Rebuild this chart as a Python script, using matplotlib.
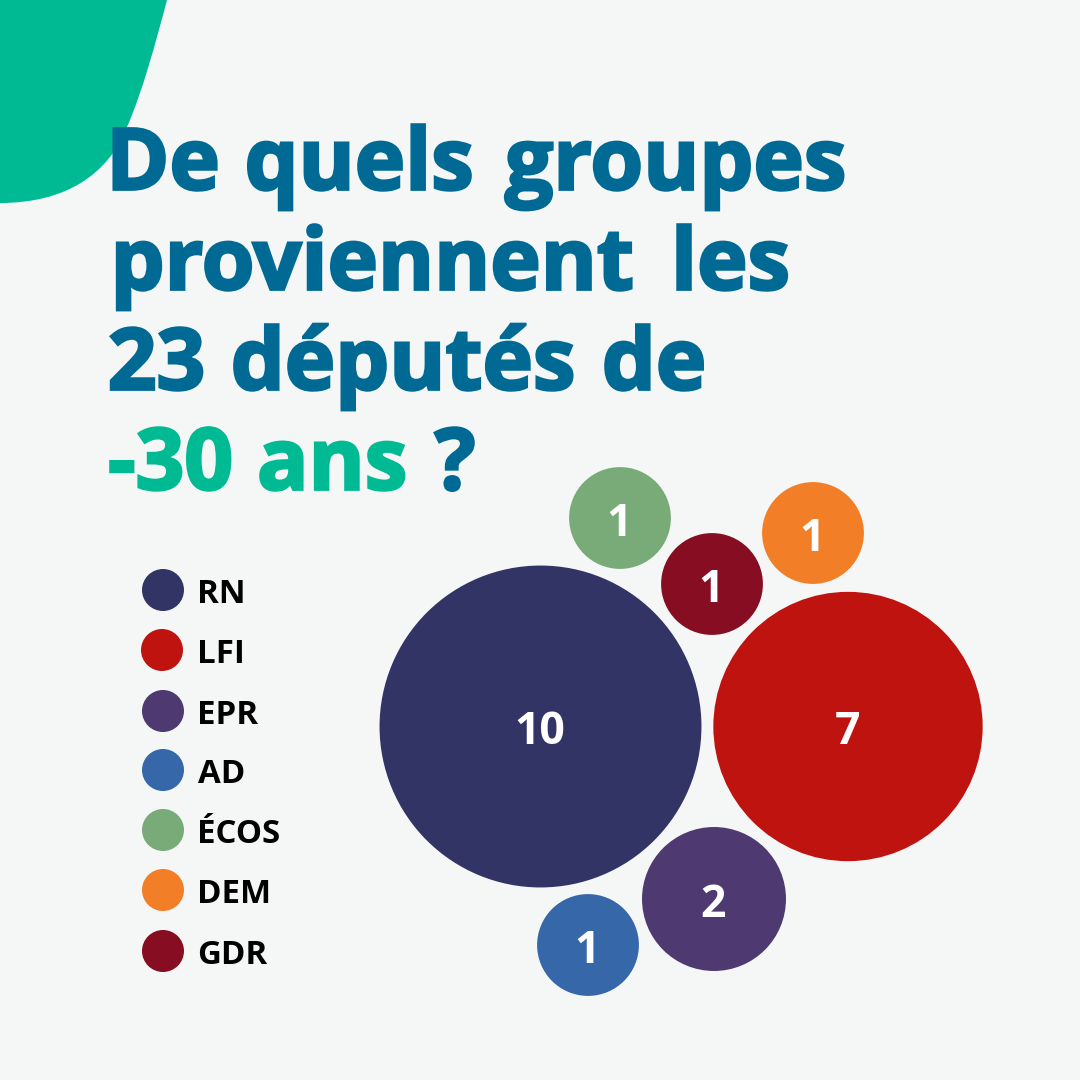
import numpy as np
import matplotlib
matplotlib.use('Agg')
import matplotlib.pyplot as plt
import matplotlib.patheffects as pe
from matplotlib.patches import Circle, PathPatch
from matplotlib.path import Path

groups = ['RN', 'LFI', 'EPR', 'AD', 'ÉCOS', 'DEM', 'GDR']
deputes = [10, 7, 2, 1, 1, 1, 1]
group_colors = ['#323466', '#BF1310', '#4E3A70', '#3567A9', '#79AB79', '#F27F27', '#860D22']
title_words = ['De', 'quels', 'groupes', 'proviennent', 'les', '23', 'députés', 'de', '-30', 'ans', '?']

# title layout: word centre x, baseline y, accent flag
word_x = [163, 359, 675.5, 372, 730.5, 156.5, 403, 654, 170.5, 332, 455]
word_y = [190, 190, 190, 290, 290, 390, 390, 390, 490, 490, 490]
word_green = [False] * 8 + [True, True, False]

# bubble layout, in pixels
centers_x = [540.5, 848, 714, 588, 620, 813, 712]
centers_y = [726.5, 726.5, 899, 945, 518, 533, 584]
legend_x = [163, 162, 163, 163, 163, 163, 163]
legend_y = [590, 650, 711, 770, 830, 890, 951]

BLUE = '#006A94'
GREEN = '#00BA94'
BG = '#F5F7F6'
BUBBLE_SCALE = 50.9  # px radius per sqrt(deputy)
TITLE_SIZE = 61.5

plt.rcParams['font.family'] = ['Open Sans', 'DejaVu Sans']

fig = plt.figure(figsize=(10.8, 10.8), dpi=100, facecolor=BG)
ax = fig.add_axes([0, 0, 1, 1])
ax.set_xlim(0, 1080)
ax.set_ylim(1080, 0)
ax.axis('off')

# corner shape
verts = [(0, 0), (167, 0),
         (155, 45), (143, 90), (127, 127),
         (108, 175), (65, 203), (0, 203),
         (0, 0)]
codes = [Path.MOVETO, Path.LINETO,
         Path.CURVE4, Path.CURVE4, Path.CURVE4,
         Path.CURVE4, Path.CURVE4, Path.CURVE4,
         Path.CLOSEPOLY]
ax.add_patch(PathPatch(Path(verts, codes), fc=GREEN, ec='none'))

# title, word by word since the heavier weight is not installed
for word, x, y, g in zip(title_words, word_x, word_y, word_green):
    col = GREEN if g else BLUE
    ax.text(x, y - 0.5, word, fontsize=TITLE_SIZE, fontweight='bold', color=col, va='baseline', ha='center',
            path_effects=[pe.withStroke(linewidth=2.0, foreground=col, joinstyle='miter')])

# bubbles
for x, y, v, c in zip(centers_x, centers_y, deputes, group_colors):
    ax.add_patch(Circle((x, y), BUBBLE_SCALE * np.sqrt(v), fc=c, ec='none'))
    ax.text(x - 0.5, y + 18, str(v), fontsize=32, fontweight='bold', color='white', ha='center', va='baseline')

# legend
for name, x, y, c in zip(groups, legend_x, legend_y, group_colors):
    ax.add_patch(Circle((x, y), 21, fc=c, ec='none'))
    ax.text(197.5, y + 13, name, fontsize=23.8, fontweight='bold', color='black', ha='left', va='baseline')

fig.savefig('out.png', dpi=100, facecolor=BG)
